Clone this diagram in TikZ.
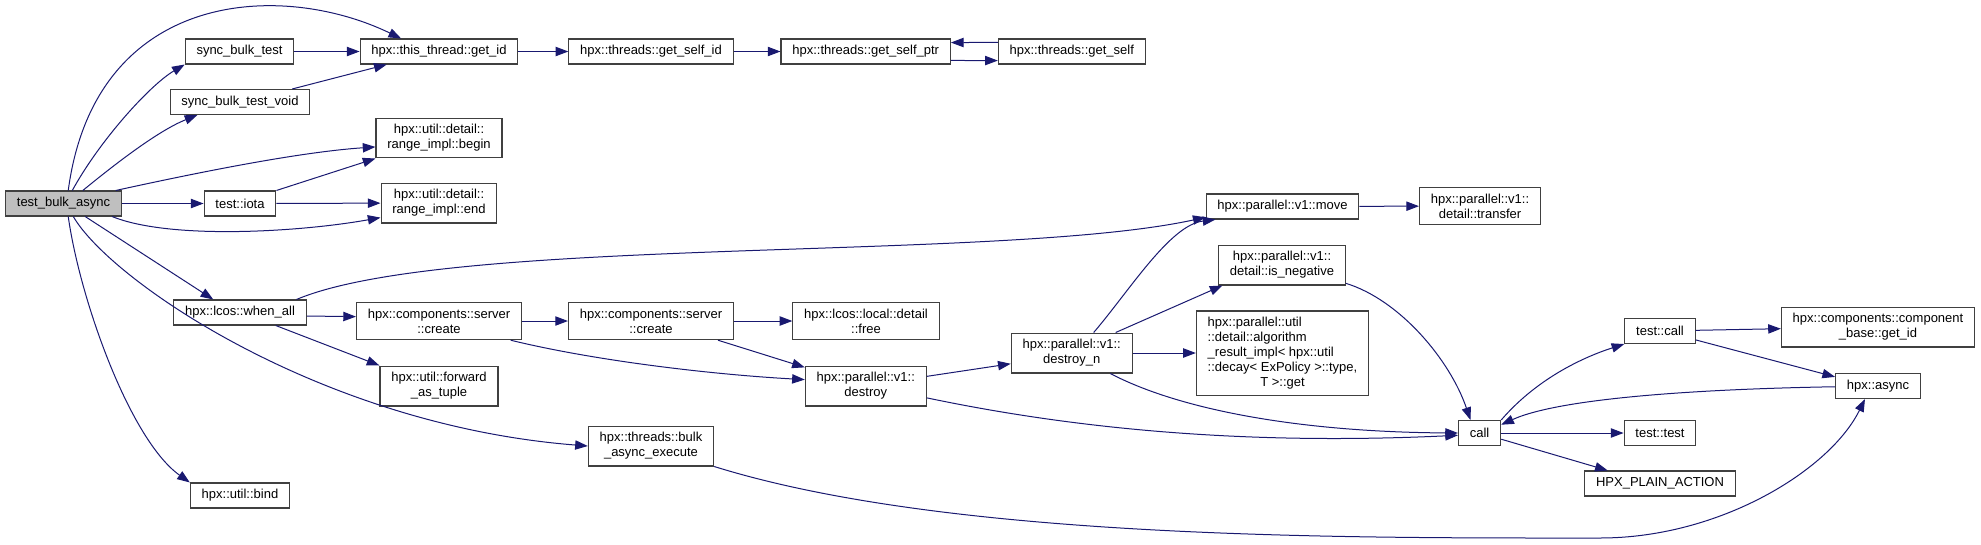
\documentclass[tikz,border=0pt]{standalone}
\usepackage{fontspec}
\setmainfont{Liberation Sans}
\usetikzlibrary{arrows.meta}

\definecolor{edgeblue}{HTML}{191970}
\definecolor{boxgray}{HTML}{BFBFBF}

\tikzset{
  fn/.style={draw=black!75, line width=0.8pt, fill=white, align=center,
    inner xsep=8.5pt, inner ysep=4.8pt, minimum height=18.75pt,
    font=\fontsize{9.75}{11.25}\selectfont},
  calls/.style={draw=edgeblue, line width=0.75pt,
    -{Triangle[length=9.5pt,width=7pt]}},
}

\begin{document}
\begin{tikzpicture}[x=0.75pt, y=-0.75pt]
  \useasboundingbox (0,0) rectangle (1981,544);

  % functions
  \node[fn, fill=boxgray] (tba) at (63.5,203.5) {test\_bulk\_async};
  \node[fn] (sbt) at (239.5,51.5) {sync\_bulk\_test};
  \node[fn] (sbtv) at (240,102) {sync\_bulk\_test\_void};
  \node[fn] (iota) at (240,203.5) {test::iota};
  \node[fn] (whenall) at (240,312.5) {hpx::lcos::when\_all};
  \node[fn] (bind) at (240,495.5) {hpx::util::bind};
  \node[fn] (thisid) at (439,51.5) {hpx::this\_thread::get\_id};
  \node[fn] (rbegin) at (439,138) {hpx::util::detail::\\range\_impl::begin};
  \node[fn] (rend) at (439,203) {hpx::util::detail::\\range\_impl::end};
  \node[fn] (create1) at (439,321) {hpx::components::server\\::create};
  \node[fn] (fwdtuple) at (439,386) {hpx::util::forward\\\_as\_tuple};
  \node[fn] (selfid) at (651,51.5) {hpx::threads::get\_self\_id};
  \node[fn] (create2) at (651,321) {hpx::components::server\\::create};
  \node[fn] (bulkexec) at (651,446) {hpx::threads::bulk\\\_async\_execute};
  \node[fn] (selfptr) at (865.7,51.5) {hpx::threads::get\_self\_ptr};
  \node[fn] (free) at (866,321) {hpx::lcos::local::detail\\::free};
  \node[fn] (destroy) at (865.8,386) {hpx::parallel::v1::\\destroy};
  \node[fn] (self) at (1071.8,51.5) {hpx::threads::get\_self};
  \node[fn] (destroyn) at (1071.7,353) {hpx::parallel::v1::\\destroy\_n};
  \node[fn] (move) at (1282.5,206.5) {hpx::parallel::v1::move};
  \node[fn] (isneg) at (1282,265) {hpx::parallel::v1::\\detail::is\_negative};
  \node[fn, inner ysep=3.4pt] (algoget) at (1282.5,353) {\begin{tabular}{@{}l@{}}hpx::parallel::util\\::detail::algorithm\\\_result\_impl< hpx::util\\::decay< ExPolicy >::type,\\\multicolumn{1}{@{}c@{}}{T >::get}\end{tabular}};
  \node[fn] (transfer) at (1480,206) {hpx::parallel::v1::\\detail::transfer};
  \node[fn] (call) at (1479.6,433) {call};
  \node[fn] (tcall) at (1660,331) {test::call};
  \node[fn] (ttest) at (1660,433) {test::test};
  \node[fn] (plainact) at (1660,483.5) {HPX\_PLAIN\_ACTION};
  \node[fn] (cbgetid) at (1878,327) {hpx::components::component\\\_base::get\_id};
  \node[fn] (async) at (1878,386) {hpx::async};

  % calls from test_bulk_async
  \draw[calls] (tba.70) .. controls (95,-10) and (280,-20) .. (thisid.161);
  \draw[calls] (tba.56) .. controls (100,140) and (150,85) .. (sbt.south west);
  \draw[calls] (tba.34) .. controls (120,160) and (160,130) .. (sbtv.197);
  \draw[calls] (tba.14) .. controls (200,172) and (300,152) .. (rbegin.188);
  \draw[calls] (tba) -- (iota);
  \draw[calls] (tba.-15) .. controls (170,240) and (300,232) .. (rend.194);
  \draw[calls] (tba.-31) -- (whenall.154);
  \draw[calls] (tba.-53) .. controls (110,280) and (320,425) .. (bulkexec.west);
  \draw[calls] (tba.-70) .. controls (80,300) and (130,440) .. (bind.north west);

  \draw[calls] (sbt) -- (thisid);
  \draw[calls] (sbtv.14) -- (thisid.194);
  \draw[calls] (iota.north east) -- (rbegin.south west);
  \draw[calls] (iota) -- (rend);
  \draw[calls] (thisid) -- (selfid);
  \draw[calls] (selfid) -- (selfptr);
  \draw[calls] (selfptr.-6) -- (self.187);
  \draw[calls] (self.173) -- (selfptr.6);

  \draw[calls] (whenall.13) .. controls (450,235) and (1000,262) .. (move.188);
  \draw[calls] (whenall.-3) -- (create1.177);
  \draw[calls] (whenall.-20) -- (fwdtuple.north west);
  \draw[calls] (create1) -- (create2);
  \draw[calls] (create1.-15) .. controls (600,362) and (720,375) .. (destroy.174);
  \draw[calls] (create2) -- (free);
  \draw[calls] (create2.-16) -- (destroy.163);
  \draw[calls] (destroy.9) -- (destroyn.190);
  \draw[calls] (destroy.-11) .. controls (1080,430) and (1250,445) .. (call.186);

  \draw[calls] (destroyn.43) .. controls (1130,290) and (1170,225) .. (move.191);
  \draw[calls] (destroyn.25) -- (isneg.199);
  \draw[calls] (destroyn) -- (algoget);
  \draw[calls] (destroyn.-28) .. controls (1180,410) and (1300,432) .. (call.west);
  \draw[calls] (move) -- (transfer);
  \draw[calls] (isneg.-16) .. controls (1400,300) and (1450,360) .. (call.125);
  \draw[calls] (bulkexec.south east) .. controls (950,540) and (1350,538) .. (1600,538)
    .. controls (1720,538) and (1830,470) .. (async.225);

  % calls from call
  \draw[calls] (call.north east) .. controls (1540,375) and (1590,355) .. (tcall.south west);
  \draw[calls] (call) -- (ttest);
  \draw[calls] (call.-16) -- (plainact.166);
  \draw[calls] (tcall) -- (cbgetid.181);
  \draw[calls] (tcall.-14) -- (async.168);
  \draw[calls] (async.181) .. controls (1700,389) and (1560,398) .. (call.21);
\end{tikzpicture}
\end{document}
